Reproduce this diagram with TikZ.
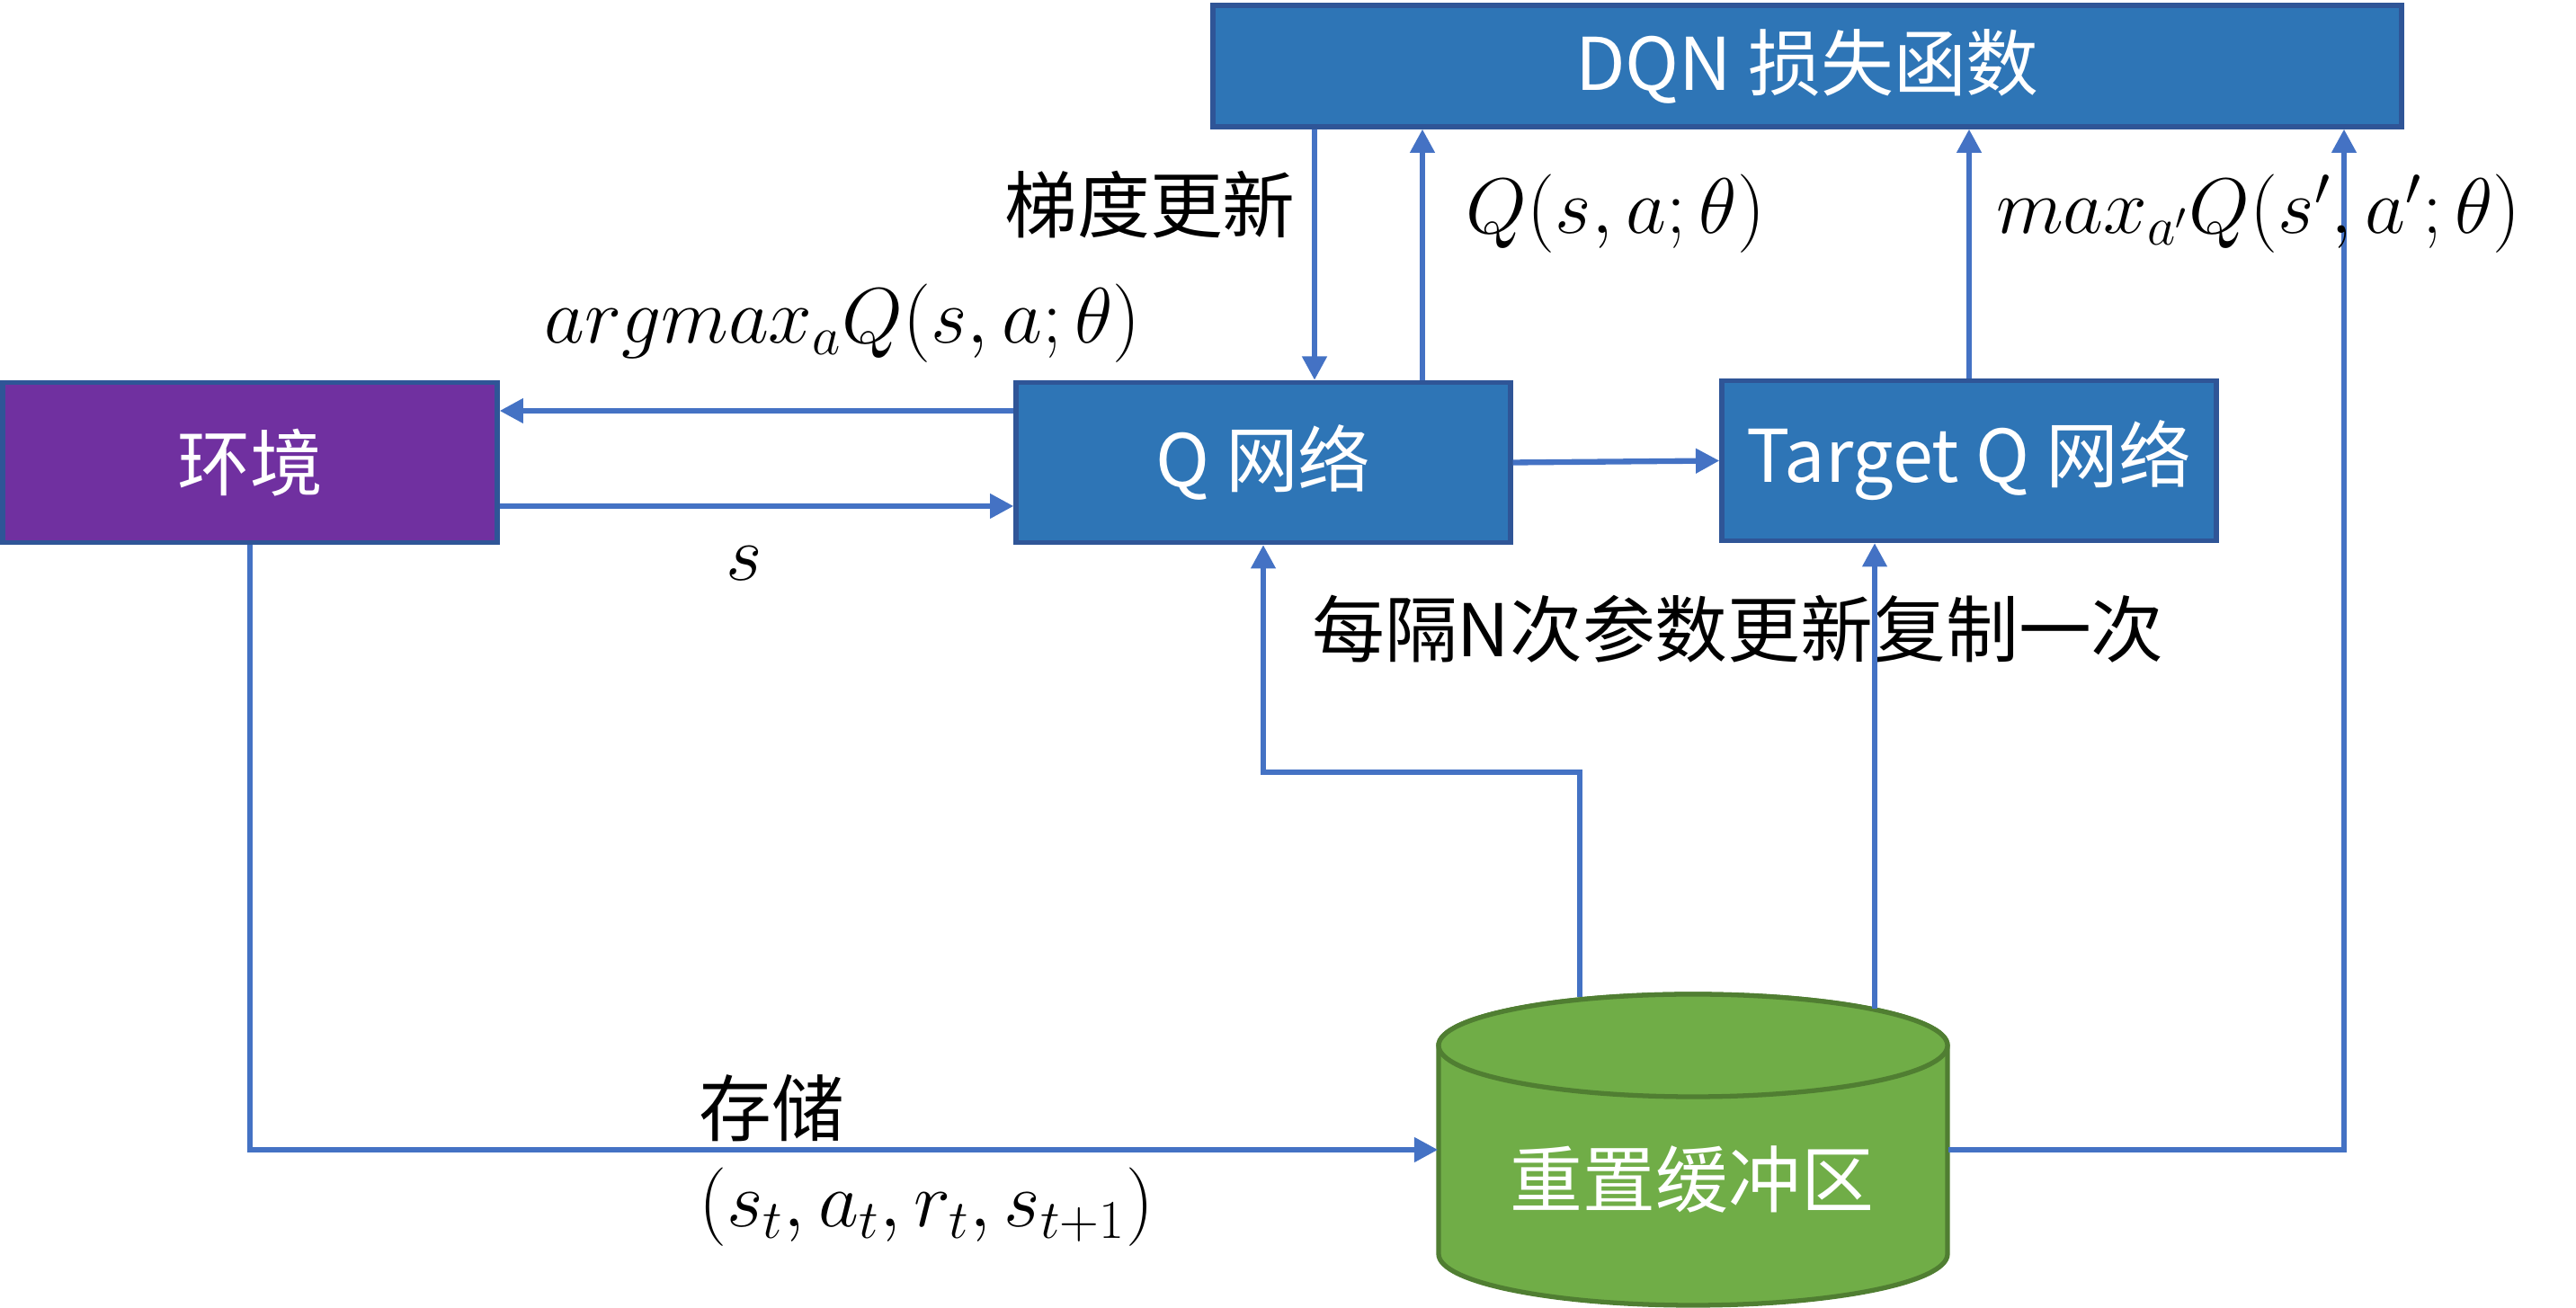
\documentclass[tikz,border=0pt]{standalone}
\usepackage{fontspec}
\setmainfont{Noto Sans CJK SC}
\usetikzlibrary{arrows.meta}
\definecolor{boxblue}{HTML}{2E75B6}
\definecolor{edgeblue}{HTML}{2F5597}
\definecolor{envpurple}{HTML}{7030A0}
\definecolor{lineblue}{HTML}{4472C4}
\definecolor{buffergreen}{HTML}{70AD47}
\definecolor{edgegreen}{HTML}{507E32}

\begin{document}
\begin{tikzpicture}[
   font=\fontsize{23pt}{28pt}\selectfont,
   block/.style={draw=edgeblue,line width=1.5pt,fill=boxblue,text=white,
      minimum width=5.5cm,minimum height=1.78cm,inner sep=0pt},
   flow/.style={lineblue,line width=1.8pt,-{Triangle[length=7.5pt,width=7.5pt]}},
   drum/.style={draw=edgegreen,line width=1.5pt,fill=buffergreen},
   mathlabel/.style={font=\fontsize{24pt}{28pt}\selectfont}]
   \useasboundingbox (0,0) rectangle (28.65,14.55);
   \node[block,minimum width=13.22cm,minimum height=1.35cm] (loss) at (20.10,13.815) {DQN 损失函数};
   \node[block,fill=envpurple] (env) at (2.78,9.405) {环境};
   \node[block] (qnet) at (14.05,9.405) {Q 网络};
   \node[block] (target) at (21.90,9.425) {Target Q 网络};
   \draw[drum] (16.00,2.92) -- (16.00,0.60) arc[start angle=180,end angle=360,x radius=2.83,y radius=0.57]
      -- (21.66,2.92) arc[start angle=0,end angle=180,x radius=2.83,y radius=0.57] -- cycle;
   \draw[drum] (18.83,2.92) ellipse[x radius=2.83,y radius=0.57];
   \node[minimum width=5.66cm,minimum height=3.46cm,inner sep=0pt] (buffer) at (18.83,1.76) {};
   \node[text=white] (buffertext) at (18.82,1.43) {重置缓冲区};
   \coordinate (gx) at (14.62,0);
   \coordinate (qx) at (15.82,0);
   \coordinate (rx) at (26.07,0);
   \coordinate (ya) at (0,9.98);
   \coordinate (ys) at (0,8.92);
   \coordinate (c1) at (17.57,3.46);
   \coordinate (c2) at (20.85,3.33);
   \draw[flow] (gx |- loss.south) -- (gx |- qnet.north);
   \draw[flow] (qx |- qnet.north) -- (qx |- loss.south);
   \draw[flow] (target.north) -- (target.north |- loss.south);
   \draw[flow] (ya -| qnet.west) -- (ya -| env.east);
   \draw[flow] (ys -| env.east) -- (ys -| qnet.west);
   \draw[flow] (qnet.east) -- (target.west);
   \draw[flow] (env.south) |- (buffer.west);
   \draw[flow] (buffer.east) -| (rx |- loss.south);
   \draw[flow] (c1) -- ++(0,2.50) -| (qnet.south);
   \node (copy) at (19.33,7.55) {每隔N次参数更新复制一次};
   \draw[flow] (c2) -- (c2 |- target.south);
   \node (grad) at (12.79,12.27) {梯度更新};
   \node[mathlabel] (qval) at (17.97,12.17) {$Q(s,a;\theta)$};
   \node[mathlabel] (maxq) at (25.12,12.17) {$max_{a'}Q(s',a';\theta)$};
   \node[mathlabel] (act) at (9.37,10.95) {$argmax_aQ(s,a;\theta)$};
   \node[mathlabel] (state) at (8.28,8.28) {$s$};
   \node[anchor=west] (store) at (7.65,2.22) {存储};
   \node[mathlabel,anchor=west] (tuple) at (7.65,1.12) {$(s_t,a_t,r_t,s_{t+1})$};
\end{tikzpicture}
\end{document}
